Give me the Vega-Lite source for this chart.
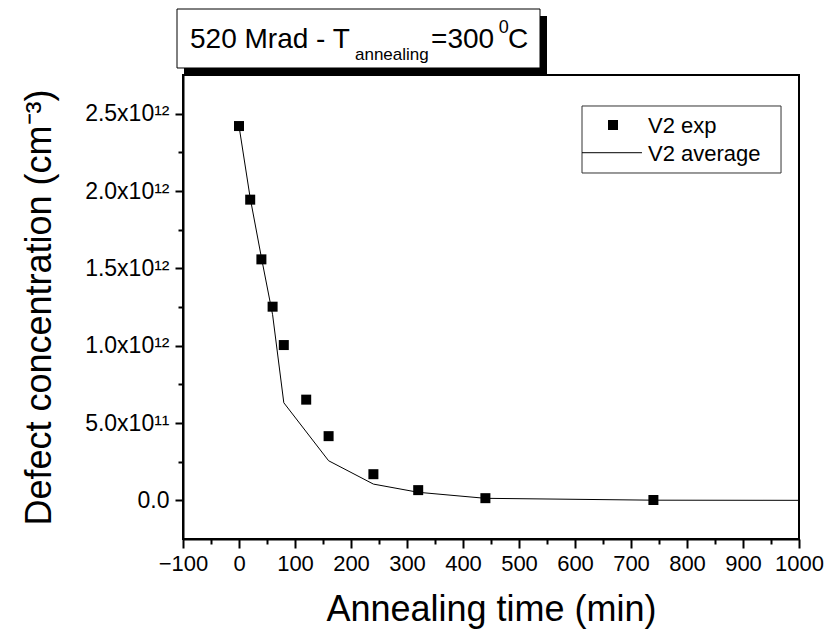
{
  "$schema": "https://vega.github.io/schema/vega-lite/v6.json",
  "width": 616,
  "height": 464,
  "autosize": {"type": "none"},
  "padding": {"left": 183, "top": 75, "right": 30, "bottom": 98},
  "background": "white",
  "config": {"view": {"stroke": "black", "strokeWidth": 2}, "font": "Liberation Sans"},
  "resolve": {"axis": {"x": "independent", "y": "independent"}},
  "datasets": {
    "exp": [
      {"time": 0, "conc": 2420000000000},
      {"time": 20, "conc": 1944000000000},
      {"time": 40, "conc": 1558000000000},
      {"time": 60, "conc": 1252000000000},
      {"time": 80, "conc": 1004000000000},
      {"time": 120, "conc": 651000000000},
      {"time": 160, "conc": 415000000000},
      {"time": 240, "conc": 169000000000},
      {"time": 320, "conc": 66000000000},
      {"time": 440, "conc": 14000000000},
      {"time": 740, "conc": 2000000000}
    ],
    "avg": [
      {"time": 0, "conc": 2420000000000},
      {"time": 20, "conc": 1955000000000},
      {"time": 40, "conc": 1570000000000},
      {"time": 60, "conc": 1200000000000},
      {"time": 80, "conc": 631000000000},
      {"time": 160, "conc": 256000000000},
      {"time": 240, "conc": 105000000000},
      {"time": 320, "conc": 52000000000},
      {"time": 440, "conc": 13000000000},
      {"time": 740, "conc": 1000000000},
      {"time": 1000, "conc": 0}
    ]
  },
  "layer": [
    {
      "data": {"name": "avg"},
      "mark": {"type": "line", "color": "black", "strokeWidth": 1},
      "encoding": {
        "x": {"field": "time", "type": "quantitative",
          "scale": {"domain": [-100, 1000], "nice": false, "zero": false},
          "axis": {"orient": "bottom", "title": "Annealing time (min)", "values": [-100,0,100,200,300,400,500,600,700,800,900,1000],
            "format": "d",
            "labelOverlap": false, "labelFlush": false, "grid": false,
            "domainColor": "black", "domainWidth": 2, "tickColor": "#000000", "tickWidth": 2, "tickSize": 9,
            "labelFontSize": 22, "labelColor": "black", "labelPadding": 5,
            "titleFontSize": 36, "titleFontWeight": "normal", "titleColor": "black", "titlePadding": 18}},
        "y": {"field": "conc", "type": "quantitative",
          "scale": {"domain": [-250000000000, 2750000000000], "nice": false, "zero": false},
          "axis": {"orient": "left", "title": "Defect concentration (cm⁻³)",
            "values": [0,500000000000,1000000000000,1500000000000,2000000000000,2500000000000],
            "labelExpr": "datum.value == 0 ? '0.0' : (datum.value < 1000000000000 ? format(datum.value / 100000000000, '.1f') + 'x10¹¹' : format(datum.value / 1000000000000, '.1f') + 'x10¹²')",
            "labelOverlap": false, "labelFlush": false, "grid": false,
            "domainColor": "black", "domainWidth": 2, "tickColor": "#000000", "tickWidth": 2, "tickSize": 8,
            "labelFontSize": 23, "labelColor": "black", "labelPadding": 6,
            "titleFontSize": 36, "titleFontWeight": "normal", "titleColor": "black", "titlePadding": 26}}
      }
    },
    {
      "data": {"name": "exp"},
      "mark": {"type": "square", "size": 100, "color": "black", "opacity": 1},
      "encoding": {
        "x": {"field": "time", "type": "quantitative",
          "axis": {"orient": "bottom", "title": null, "labels": false, "domain": false, "grid": false,
            "values": [-50,50,150,250,350,450,550,650,750,850,950],
            "tickColor": "#000000", "tickWidth": 2, "tickSize": 5}},
        "y": {"field": "conc", "type": "quantitative",
          "axis": {"orient": "left", "title": null, "labels": false, "domain": false, "grid": false,
            "values": [250000000000,750000000000,1250000000000,1750000000000,2250000000000],
            "tickColor": "#000000", "tickWidth": 2, "tickSize": 5}}
      }
    },
    {
      "data": {"values": [{}]},
      "mark": {"type": "rect", "color": "black"},
      "encoding": {
        "x": {"datum": -98.2, "type": "quantitative", "axis": null}, "x2": {"datum": 550},
        "y": {"datum": 3131500000000, "type": "quantitative", "axis": null}, "y2": {"datum": 2750000000000}
      }
    },
    {
      "data": {"values": [{}]},
      "mark": {"type": "rect", "fill": "white", "stroke": "black", "strokeWidth": 1},
      "encoding": {
        "x": {"datum": -110.7, "type": "quantitative", "axis": null}, "x2": {"datum": 537.5},
        "y": {"datum": 3176700000000, "type": "quantitative", "axis": null}, "y2": {"datum": 2795300000000}
      }
    },
    {
      "data": {"values": [{}]},
      "mark": {"type": "text", "text": "520 Mrad - T", "fontSize": 28, "align": "left", "baseline": "alphabetic", "color": "black"},
      "encoding": {"x": {"datum": -87.5, "type": "quantitative", "axis": null}, "y": {"datum": 2922600000000, "type": "quantitative", "axis": null}}
    },
    {
      "data": {"values": [{}]},
      "mark": {"type": "text", "text": "annealing", "fontSize": 17, "align": "left", "baseline": "alphabetic", "color": "black"},
      "encoding": {"x": {"datum": 207.1, "type": "quantitative", "axis": null}, "y": {"datum": 2850200000000, "type": "quantitative", "axis": null}}
    },
    {
      "data": {"values": [{}]},
      "mark": {"type": "text", "text": "=300", "fontSize": 28, "align": "left", "baseline": "alphabetic", "color": "black"},
      "encoding": {"x": {"datum": 342.9, "type": "quantitative", "axis": null}, "y": {"datum": 2922600000000, "type": "quantitative", "axis": null}}
    },
    {
      "data": {"values": [{}]},
      "mark": {"type": "text", "text": "0", "fontSize": 18, "align": "left", "baseline": "alphabetic", "color": "black"},
      "encoding": {"x": {"datum": 463.8, "type": "quantitative", "axis": null}, "y": {"datum": 3019600000000, "type": "quantitative", "axis": null}}
    },
    {
      "data": {"values": [{}]},
      "mark": {"type": "text", "text": "C", "fontSize": 28, "align": "left", "baseline": "alphabetic", "color": "black"},
      "encoding": {"x": {"datum": 480.4, "type": "quantitative", "axis": null}, "y": {"datum": 2922600000000, "type": "quantitative", "axis": null}}
    },
    {
      "data": {"values": [{}]},
      "mark": {"type": "rect", "fill": "white", "stroke": "#333333", "strokeWidth": 1},
      "encoding": {
        "x": {"datum": 612.5, "type": "quantitative", "axis": null}, "x2": {"datum": 967.9},
        "y": {"datum": 2549600000000, "type": "quantitative", "axis": null}, "y2": {"datum": 2116400000000}
      }
    },
    {
      "data": {"values": [{}]},
      "mark": {"type": "square", "size": 100, "color": "black", "opacity": 1},
      "encoding": {"x": {"datum": 667.9, "type": "quantitative", "axis": null}, "y": {"datum": 2426700000000, "type": "quantitative", "axis": null}}
    },
    {
      "data": {"values": [{}]},
      "mark": {"type": "rule", "color": "black", "strokeWidth": 1},
      "encoding": {
        "x": {"datum": 612.5, "type": "quantitative", "axis": null}, "x2": {"datum": 719.6},
        "y": {"datum": 2247600000000, "type": "quantitative", "axis": null}
      }
    },
    {
      "data": {"values": [{}]},
      "mark": {"type": "text", "text": "V2 exp", "fontSize": 22, "align": "left", "baseline": "alphabetic", "color": "black"},
      "encoding": {"x": {"datum": 730.4, "type": "quantitative", "axis": null}, "y": {"datum": 2375000000000, "type": "quantitative", "axis": null}}
    },
    {
      "data": {"values": [{}]},
      "mark": {"type": "text", "text": "V2 average", "fontSize": 22, "align": "left", "baseline": "alphabetic", "color": "black"},
      "encoding": {"x": {"datum": 730.4, "type": "quantitative", "axis": null}, "y": {"datum": 2194000000000, "type": "quantitative", "axis": null}}
    }
  ]
}
